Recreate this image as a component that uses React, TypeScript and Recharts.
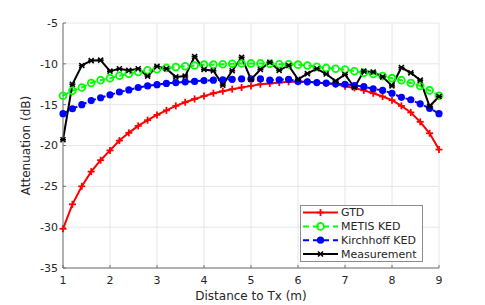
import { LineChart, Line, XAxis, YAxis, CartesianGrid, Legend } from 'recharts'

// distance to transmitter (m)
const distance = [
  1.0, 1.2, 1.4, 1.6, 1.8, 2.0, 2.2, 2.4, 2.6, 2.8, 3.0, 3.2, 3.4, 3.6, 3.8, 4.0, 4.2, 4.4, 4.6, 4.8, 5.0,
  5.2, 5.4, 5.6, 5.8, 6.0, 6.2, 6.4, 6.6, 6.8, 7.0, 7.2, 7.4, 7.6, 7.8, 8.0, 8.2, 8.4, 8.6, 8.8, 9.0,
]

const gtd = [
  -30.2, -27.2, -25.0, -23.2, -21.8, -20.6, -19.4, -18.45, -17.6, -16.9, -16.25, -15.7, -15.15, -14.7, -14.3,
  -13.95, -13.6, -13.35, -13.1, -12.9, -12.7, -12.5, -12.4, -12.3, -12.2, -12.2, -12.2, -12.3, -12.4, -12.5,
  -12.75, -12.95, -13.25, -13.6, -14.0, -14.45, -15.15, -15.95, -17.1, -18.5, -20.5,
]

const metisKed = [
  -13.9, -13.3, -12.9, -12.35, -12.0, -11.75, -11.45, -11.2, -11.0, -10.8, -10.65, -10.5, -10.4, -10.3, -10.2,
  -10.1, -10.1, -10.05, -10.0, -9.95, -9.95, -9.95, -10.0, -10.05, -10.05, -10.1, -10.2, -10.35, -10.5, -10.6,
  -10.7, -10.9, -11.1, -11.25, -11.5, -11.75, -12.0, -12.35, -12.7, -13.25, -13.9,
]

const kirchhoffKed = [
  -16.1, -15.5, -15.0, -14.5, -14.15, -13.8, -13.45, -13.2, -12.9, -12.7, -12.55, -12.4, -12.3, -12.2, -12.15,
  -12.05, -12.0, -11.95, -11.9, -11.85, -11.85, -11.85, -12.0, -11.95, -11.9, -12.15, -12.2, -12.3, -12.35,
  -12.45, -12.5, -12.65, -12.8, -13.05, -13.25, -13.6, -14.1, -14.4, -14.9, -15.45, -16.1,
]

const measurement = [
  -19.3, -12.5, -10.2, -9.6, -9.55, -10.9, -10.6, -10.8, -10.6, -11.5, -10.3, -10.6, -11.6, -11.5, -9.1,
  -10.7, -10.85, -12.6, -10.85, -9.2, -11.9, -10.7, -9.8, -10.8, -10.2, -11.9, -11.2, -10.6, -11.25, -12.1,
  -11.3, -12.9, -10.9, -11.0, -11.6, -12.7, -10.45, -11.1, -12.0, -15.2, -14.0,
]

const xTicks = [1, 2, 3, 4, 5, 6, 7, 8, 9]
const yTicks = [-35, -30, -25, -20, -15, -10, -5]

const data = distance.map((d, i) => ({
  d,
  gtd: gtd[i],
  metis: metisKed[i],
  kirchhoff: kirchhoffKed[i],
  meas: measurement[i],
}))

const FONT = '"DejaVu Sans", sans-serif'
const TEXT = '#262626'

type Kind = 'plus' | 'circle' | 'dot' | 'cross'

// MATLAB-like marker glyphs
function Marker({ kind, x, y, color }: { kind: Kind; x: number; y: number; color: string }) {
  if (kind === 'plus') {
    return (
      <g stroke={color} strokeWidth={1.8}>
        <line x1={x - 3.5} y1={y} x2={x + 3.5} y2={y} />
        <line x1={x} y1={y - 3.5} x2={x} y2={y + 3.5} />
      </g>
    )
  }
  if (kind === 'circle') {
    return <circle cx={x} cy={y} r={3.4} fill="none" stroke={color} strokeWidth={1.8} />
  }
  if (kind === 'dot') {
    return <circle cx={x} cy={y} r={3.6} fill={color} stroke="none" />
  }
  return (
    <g stroke={color} strokeWidth={1.6}>
      <line x1={x - 2.5} y1={y - 2.5} x2={x + 2.5} y2={y + 2.5} />
      <line x1={x - 2.5} y1={y + 2.5} x2={x + 2.5} y2={y - 2.5} />
      <line x1={x - 3} y1={y} x2={x + 3} y2={y} />
    </g>
  )
}

const series = [
  { key: 'gtd', name: 'GTD', color: '#ff0000', dash: undefined, kind: 'plus' as Kind },
  { key: 'metis', name: 'METIS KED', color: '#00ff00', dash: '6 4', kind: 'circle' as Kind },
  { key: 'kirchhoff', name: 'Kirchhoff KED', color: '#0000ff', dash: '6 4', kind: 'dot' as Kind },
  { key: 'meas', name: 'Measurement', color: '#000000', dash: undefined, kind: 'cross' as Kind },
]

const makeDot = (kind: Kind, color: string, key: string) => (props: any) => (
  <Marker key={`${key}-${props.index}`} kind={kind} x={props.cx} y={props.cy} color={color} />
)

function LegendBox() {
  return (
    <svg width={123} height={57} style={{ display: 'block' }}>
      <rect x={0.5} y={0.5} width={122} height={56} fill="#fff" stroke="#8c8c8c" />
      {series.map((s, i) => {
        const y = 7.6 + i * 13.8
        return (
          <g key={s.key}>
            <line x1={3} y1={y} x2={38} y2={y} stroke={s.color} strokeWidth={2} strokeDasharray={s.dash} />
            <Marker kind={s.kind} x={20.5} y={y} color={s.color} />
            <text x={41} y={y} dominantBaseline="central" fontSize={11} fontFamily={FONT} fill={TEXT}>
              {s.name}
            </text>
          </g>
        )
      })}
    </svg>
  )
}

const YLabel = (props: any) => {
  const vb = props.viewBox || { y: 23, height: 245 }
  const cx = 26
  const cy = vb.y + vb.height / 2
  return (
    <text
      x={cx}
      y={cy}
      transform={`rotate(-90, ${cx}, ${cy})`}
      textAnchor="middle"
      dominantBaseline="central"
      fontSize={12}
      fontFamily={FONT}
      fill={TEXT}
    >
      Attenuation (dB)
    </text>
  )
}

export default function App() {
  return (
    <div style={{ position: 'absolute', left: 0, top: 0, width: 485, height: 305, background: '#fff' }}>
      <LineChart width={485} height={305} data={data} margin={{ top: 23, right: 46, left: 0, bottom: 0 }}>
        <CartesianGrid stroke="#e6e6e6" strokeWidth={1} />
        <XAxis
          dataKey="d"
          type="number"
          domain={[1, 9]}
          ticks={xTicks}
          height={37}
          stroke="#707070"
          tickSize={-3}
          tickMargin={11}
          tick={{ fontSize: 11, fontFamily: FONT, fill: TEXT }}
          label={{
            value: 'Distance to Tx (m)',
            position: 'insideBottom',
            offset: 5,
            fontSize: 12,
            fontFamily: FONT,
            fill: TEXT,
          }}
        />
        <YAxis
          type="number"
          domain={[-35, -5]}
          ticks={yTicks}
          width={63}
          stroke="#707070"
          tickSize={-3}
          tickMargin={8}
          tick={{ fontSize: 11, fontFamily: FONT, fill: TEXT }}
          label={<YLabel />}
        />
        <Legend
          layout="vertical"
          align="center"
          verticalAlign="middle"
          wrapperStyle={{ position: 'absolute', left: 300, top: 205, width: 123, height: 57 }}
          content={() => <LegendBox />}
        />
        {series.map((s) => (
          <Line
            key={s.key}
            dataKey={s.key}
            name={s.name}
            type="linear"
            stroke={s.color}
            strokeWidth={2}
            strokeDasharray={s.dash}
            dot={makeDot(s.kind, s.color, s.key)}
            activeDot={false}
            isAnimationActive={false}
          />
        ))}
      </LineChart>
    </div>
  )
}
